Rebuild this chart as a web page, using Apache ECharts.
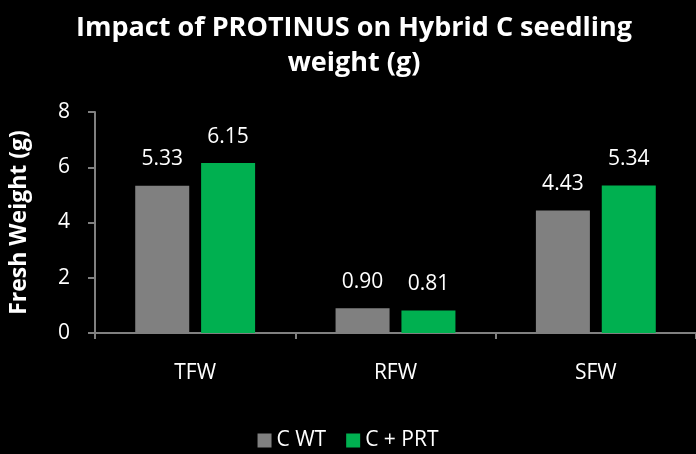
<!DOCTYPE html>
<html>
<head>
<meta charset="utf-8">
<script src="https://cdn.jsdelivr.net/npm/echarts@6/dist/echarts.min.js"></script>
<style>
  html, body { margin: 0; padding: 0; background: #000; }
  #chart { width: 696px; height: 454px; }
</style>
</head>
<body>
<div id="chart"></div>
<script>
const categories = ['TFW', 'RFW', 'SFW'];
const wtValues = [5.33, 0.90, 4.43];
const prtValues = [6.15, 0.81, 5.34];
const seriesNames = ['C WT', 'C + PRT'];

const font = 'Open Sans';
const chart = echarts.init(document.getElementById('chart'));

const labelStyle = {
  show: true,
  position: 'top',
  distance: 16,
  color: '#fff',
  fontFamily: font,
  fontSize: 21,
  formatter: p => p.value.toFixed(2)
};

chart.setOption({
  backgroundColor: '#000',
  animation: false,
  title: {
    text: 'Impact of PROTINUS on Hybrid C seedling\nweight (g)',
    left: 349,
    textAlign: 'center',
    top: 6,
    textStyle: {
      color: '#fff',
      fontFamily: font,
      fontWeight: 'bold',
      fontSize: 27,
      lineHeight: 35
    }
  },
  legend: {
    bottom: -2,
    left: 'center',
    itemWidth: 14,
    itemHeight: 14,
    itemGap: 20,
    icon: 'rect',
    textStyle: { color: '#fff', fontFamily: font, fontSize: 21 },
    data: seriesNames
  },
  grid: { left: 93, right: 0, top: 112, bottom: 121 },
  xAxis: {
    type: 'category',
    data: categories,
    axisLine: { lineStyle: { color: '#808080', width: 2 } },
    axisTick: { show: true, length: 6, lineStyle: { color: '#808080', width: 2 } },
    axisLabel: { color: '#fff', fontFamily: font, fontSize: 21, margin: 30 }
  },
  yAxis: {
    type: 'value',
    min: 0,
    max: 8,
    interval: 2,
    name: 'Fresh Weight (g)',
    nameLocation: 'middle',
    nameGap: 64,
    nameTextStyle: { color: '#fff', fontFamily: font, fontWeight: 'bold', fontSize: 23 },
    axisLine: { show: true, lineStyle: { color: '#808080', width: 2 } },
    axisTick: { show: true, length: 7, lineStyle: { color: '#808080', width: 2 } },
    splitLine: { show: false },
    axisLabel: { color: '#fff', fontFamily: font, fontSize: 21, margin: 25 }
  },
  series: [
    {
      name: seriesNames[0],
      type: 'bar',
      data: wtValues,
      barWidth: 54,
      barGap: '22%',
      itemStyle: { color: '#808080' },
      label: labelStyle
    },
    {
      name: seriesNames[1],
      type: 'bar',
      data: prtValues,
      barWidth: 54,
      itemStyle: { color: '#00b050' },
      label: labelStyle
    }
  ]
});

window.addEventListener('resize', chart.resize);
</script>
</body>
</html>
